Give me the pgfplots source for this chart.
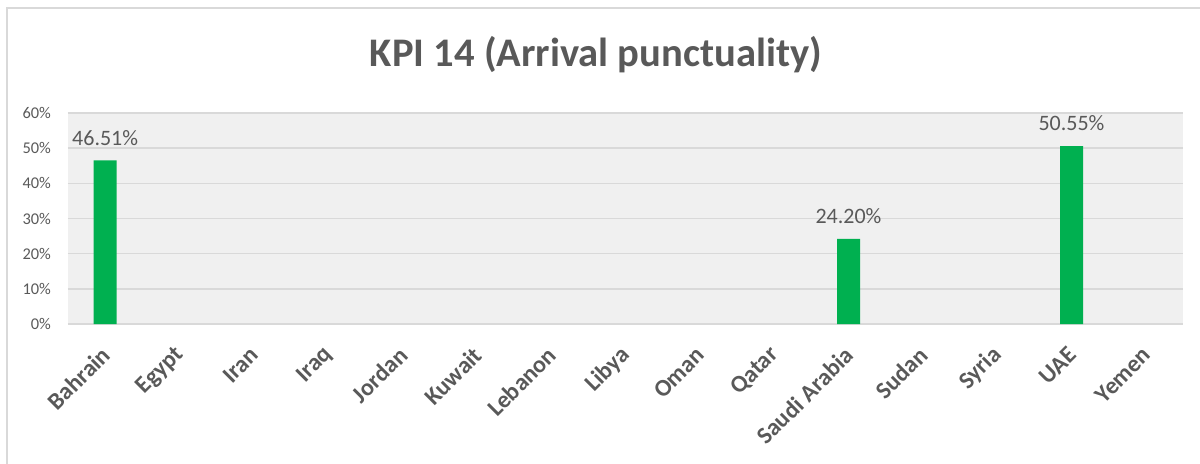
\documentclass[border=0pt]{standalone}
\usepackage{pgfplots}
\pgfplotsset{compat=1.18}
\usepackage{fontspec}
\setmainfont{Carlito}
\definecolor{txtgray}{HTML}{595959}
\definecolor{bggray}{HTML}{F0F0F0}
\definecolor{gridgray}{HTML}{D9D9D9}
\definecolor{bargreen}{HTML}{00B050}
\begin{document}
\begin{tikzpicture}
\useasboundingbox (0pt,0pt) rectangle (600pt,231.5pt);
\draw[gridgray, line width=1pt] (3.25pt,-2pt) -- (3.25pt,227.5pt) -- (605pt,227.5pt);
\node[font=\bfseries\fontsize{20.3}{24}\selectfont, text=txtgray] at (298pt,204pt) {KPI 14 (Arrival punctuality)};
\begin{axis}[
  at={(34pt,69.5pt)}, anchor=south west,
  scale only axis, width=557.5pt, height=105.5pt,
  xmin=-0.5, xmax=14.5, ymin=0, ymax=60,
  axis background/.style={fill=bggray},
  axis line style={draw=none},
  major tick length=0pt,
  ytick={0,10,...,60},
  yticklabel={\pgfmathprintnumber{\tick}\%},
  yticklabel style={font=\fontsize{8.2}{9}\selectfont, text=txtgray, xshift=-5pt},
  /pgf/number format/assume math mode=true,
  ymajorgrids, grid style={gridgray, line width=0.8pt},
  xtick={0,...,14},
  xticklabels={Bahrain,Egypt,Iran,Iraq,Jordan,Kuwait,Lebanon,Libya,Oman,Qatar,Saudi Arabia,Sudan,Syria,UAE,Yemen},
  xticklabel style={xshift=0.5pt, yshift=-13.5pt, font=\bfseries\fontsize{12}{14}\selectfont, text=txtgray, rotate=45, anchor=east, inner sep=0pt},
  ybar, bar width=11.5pt,
  nodes near coords={\pgfmathprintnumber[fixed,fixed zerofill,precision=2]{\pgfplotspointmeta}\%},
  nodes near coords style={font=\fontsize{11}{13}\selectfont, text=txtgray, yshift=4pt},
  point meta=explicit,
  clip=false,
]
\addplot[fill=bargreen, draw=none] table[meta index=2] {
x y m
0 46.51 46.51
10 24.20 24.20
13 50.55 50.55
};
\end{axis}
\end{tikzpicture}
\end{document}
